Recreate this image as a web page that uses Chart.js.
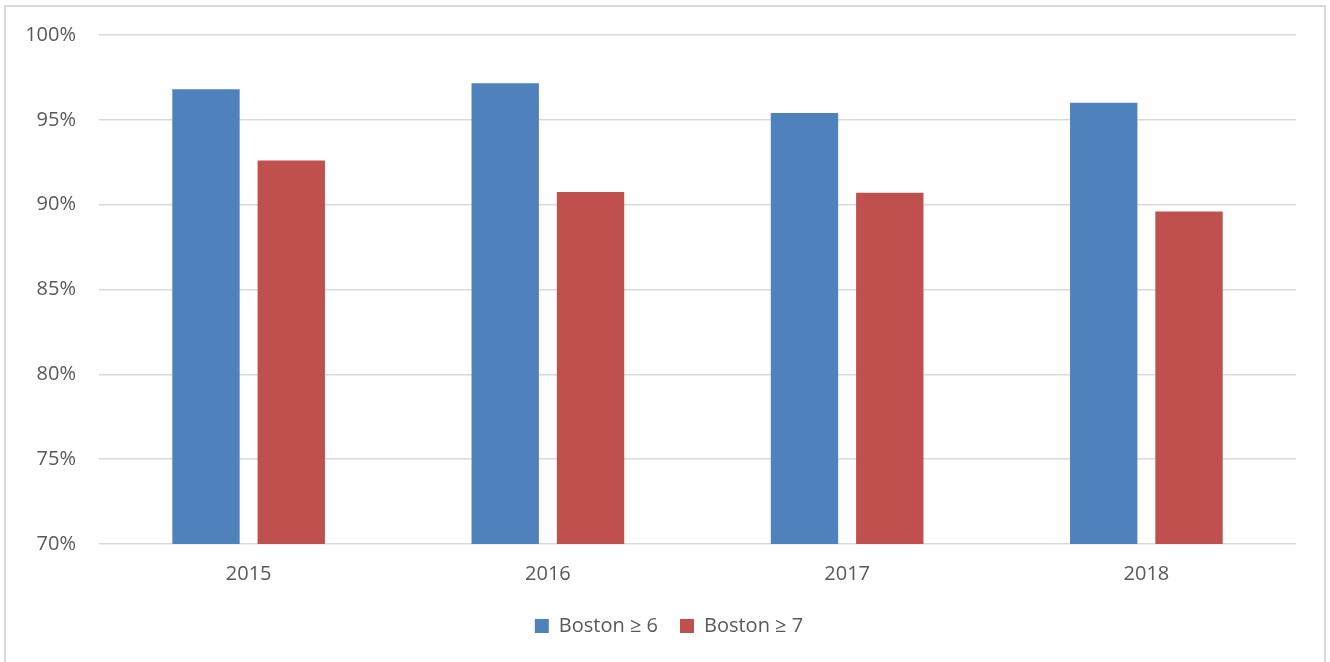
<!DOCTYPE html>
<html>
<head>
<meta charset="utf-8">
<script src="https://cdn.jsdelivr.net/npm/chart.js@4"></script>
<style>
  html, body { margin: 0; padding: 0; background: #fff; }
  #wrap { position: absolute; left: 0; top: 0; width: 1330px; height: 662px; }
</style>
</head>
<body>
<div id="wrap"><canvas id="c" width="1330" height="662"></canvas></div>
<script>
const categories = ['2015', '2016', '2017', '2018'];
const boston6 = [96.8, 97.15, 95.4, 96.0];
const boston7 = [92.6, 90.75, 90.7, 89.6];
const seriesNames = ['Boston \u2265 6', 'Boston \u2265 7'];
const yMin = 70, yMax = 100, yStep = 5;

const borderPlugin = {
  id: 'outerBorder',
  beforeDraw(chart) {
    const ctx = chart.ctx;
    ctx.save();
    ctx.fillStyle = '#ffffff';
    ctx.fillRect(0, 0, chart.width, chart.height);
    ctx.strokeStyle = '#d9d9d9';
    ctx.lineWidth = 2;
    ctx.strokeRect(5, 6, 1320, 700);
    ctx.restore();
  }
};

// shift the legend so it is centred on the whole picture
const legendShift = {
  id: 'legendShift',
  afterLayout(chart) {
    if (chart.legend) {
      chart.legend.left += 21;
      chart.legend.right += 21;
    }
  }
};

const textColor = '#595959';
const fontFamily = '"Open Sans", "Noto Sans", sans-serif';

new Chart(document.getElementById('c'), {
  type: 'bar',
  data: {
    labels: categories,
    datasets: [
      { label: seriesNames[0], data: boston6, backgroundColor: '#4F81BD', categoryPercentage: 0.57, barPercentage: 0.79 },
      { label: seriesNames[1], data: boston7, backgroundColor: '#C0504D', categoryPercentage: 0.57, barPercentage: 0.79 }
    ]
  },
  options: {
    responsive: false,
    animation: false,
    layout: { padding: { left: 0, right: 34, top: 35, bottom: 16 } },
    plugins: {
      legend: {
        position: 'bottom',
        labels: {
          boxWidth: 14, boxHeight: 14, padding: 22,
          color: textColor,
          font: { family: fontFamily, size: 20 }
        }
      },
      tooltip: { enabled: false }
    },
    scales: {
      x: {
        afterFit(scale) { scale.height = 50; },
        grid: { display: false, drawTicks: false },
        border: { display: false },
        ticks: { color: textColor, padding: 18, font: { family: fontFamily, size: 20 } }
      },
      y: {
        min: yMin, max: yMax,
        afterFit(scale) { scale.width = 99; },
        grid: { color: '#d9d9d9', lineWidth: 1.5, drawTicks: false },
        border: { display: false },
        ticks: {
          stepSize: yStep, padding: 23, color: textColor,
          font: { family: fontFamily, size: 20 },
          callback: v => v + '%'
        }
      }
    }
  },
  plugins: [borderPlugin, legendShift]
});
</script>
</body>
</html>
